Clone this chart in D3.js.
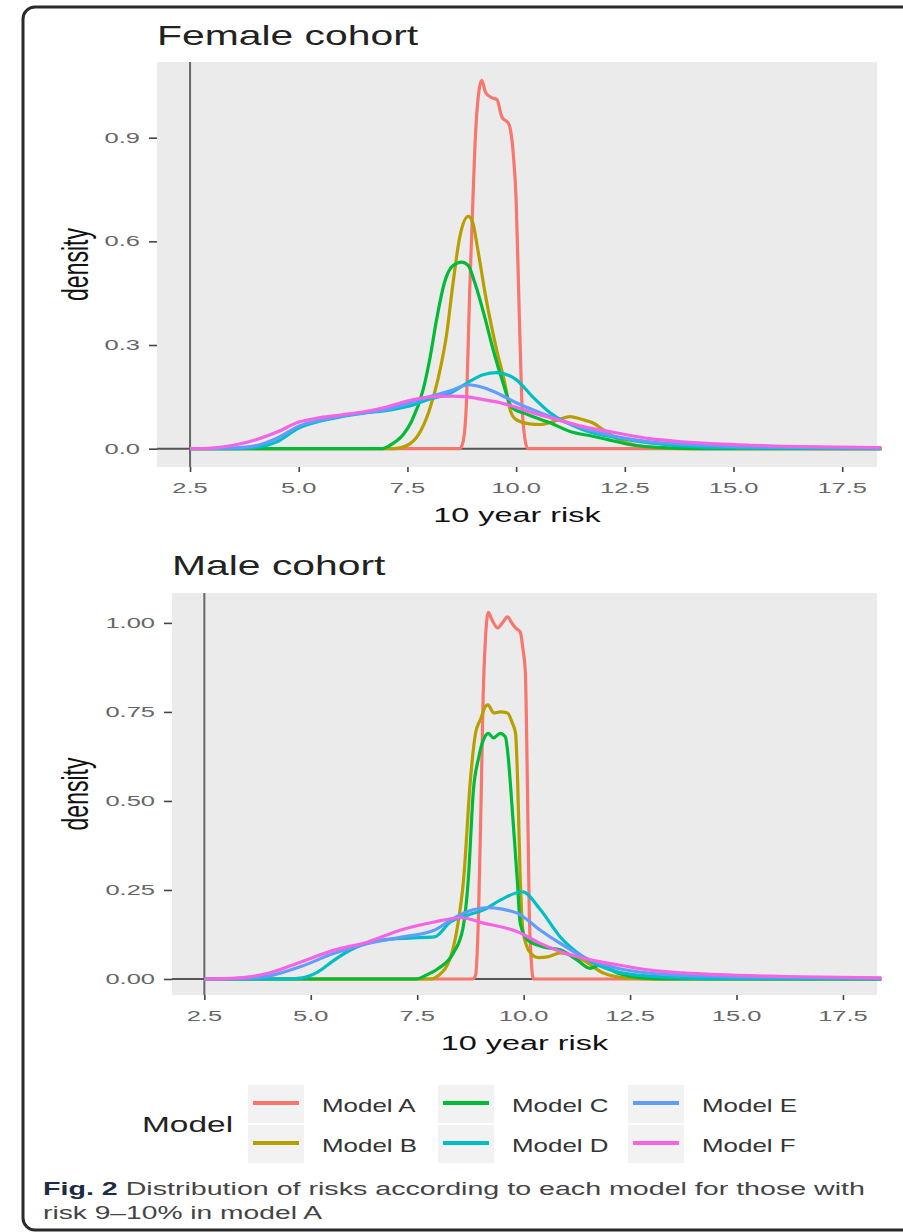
<!DOCTYPE html>
<html>
<head>
<meta charset="utf-8">
<script src="https://cdn.jsdelivr.net/npm/d3@7"></script>
<style>
  body { margin: 0; background: #fff; }
  svg { display: block; font-family: "Liberation Sans", Arial, sans-serif; }
</style>
</head>
<body>
<svg width="903" height="1232"></svg>
<script>
/*
  ==============================================================================
                                  Data
  ==============================================================================
*/

var models = ["Model A", "Model B", "Model C", "Model D", "Model E", "Model F"];
var colours = ["#F8766D", "#B79F00", "#00BA38", "#00BFC4", "#619CFF", "#F564E3"];

var xTicks = [2.5, 5, 7.5, 10, 12.5, 15, 17.5];
var femaleYTicks = [0, 0.3, 0.6, 0.9];
var maleYTicks = [0, 0.25, 0.5, 0.75, 1];

// [10 year risk, density]
var femaleA = [[2.5,0],[8.7,0],[8.78,0.02],[8.86,0.14],[8.93,0.45],[9.0,0.7],[9.07,0.92],[9.15,1.04],
  [9.21,1.066],[9.3,1.03],[9.45,1.015],[9.56,1.01],[9.67,0.96],[9.83,0.94],[9.93,0.86],[10.0,0.72],
  [10.07,0.4],[10.13,0.14],[10.2,0.03],[10.27,0],[18.4,0]];
var femaleB = [[2.5,0],[7.2,0],[7.5,0.01],[7.75,0.04],[8.0,0.11],[8.2,0.2],[8.4,0.33],[8.55,0.48],
  [8.7,0.61],[8.9,0.672],[9.0,0.655],[9.12,0.575],[9.3,0.44],[9.55,0.287],[9.74,0.19],[9.86,0.113],
  [10.0,0.084],[10.3,0.072],[10.55,0.07],[10.9,0.08],[11.24,0.093],[11.5,0.085],[11.76,0.075],
  [12.0,0.055],[12.23,0.035],[12.68,0.012],[13.2,0.003],[14,0],[18.4,0]];
var femaleC = [[2.5,0],[6.9,0],[7.1,0.01],[7.4,0.04],[7.6,0.08],[7.86,0.17],[8.0,0.25],[8.18,0.38],
  [8.35,0.48],[8.55,0.53],[8.75,0.54],[8.9,0.53],[9.05,0.48],[9.28,0.38],[9.47,0.287],[9.7,0.19],
  [9.9,0.12],[10.24,0.1],[10.78,0.075],[11.24,0.05],[11.76,0.036],[12.08,0.027],[12.6,0.012],
  [13.5,0.002],[14.2,0],[18.4,0]];
var femaleD = [[2.5,0],[3.5,0],[4.0,0.004],[4.5,0.02],[5.0,0.06],[5.5,0.08],[6.0,0.093],[6.5,0.103],
  [7.0,0.11],[7.5,0.122],[8.0,0.143],[8.5,0.162],[8.87,0.19],[9.24,0.214],[9.55,0.22],[10.0,0.2],
  [10.38,0.15],[10.78,0.104],[11.54,0.055],[12.3,0.032],[13.07,0.017],[13.83,0.008],[15,0.002],[18.4,0]];
var femaleE = [[2.5,0],[3.5,0.002],[4.0,0.008],[4.5,0.03],[5.0,0.065],[5.5,0.083],[6.0,0.095],
  [6.5,0.104],[7.0,0.113],[7.5,0.13],[8.0,0.15],[8.5,0.168],[8.9,0.185],[9.24,0.177],[9.63,0.157],
  [10.0,0.133],[10.38,0.113],[10.78,0.093],[11.54,0.06],[12.3,0.035],[13.07,0.02],[13.83,0.013],
  [15.4,0.005],[18.4,0.002]];
var femaleF = [[2.5,0],[3.0,0.002],[3.5,0.01],[4.0,0.025],[4.5,0.048],[5.0,0.077],[5.5,0.09],
  [6.0,0.098],[6.5,0.107],[7.0,0.12],[7.5,0.138],[8.0,0.149],[8.5,0.152],[8.87,0.15],[9.24,0.142],
  [9.63,0.133],[10.0,0.12],[10.38,0.104],[10.78,0.09],[11.54,0.064],[12.3,0.046],[13.07,0.029],
  [13.83,0.02],[14.6,0.014],[15.36,0.01],[16.1,0.007],[17.0,0.005],[18.4,0.003]];

var maleA = [[2.5,0],[8.8,0],[8.87,0.01],[8.94,0.18],[9.0,0.5],[9.05,0.8],[9.1,0.95],[9.17,1.03],
  [9.25,1.01],[9.39,0.986],[9.5,1.0],[9.62,1.017],[9.72,1.0],[9.81,0.986],[9.92,0.975],[9.98,0.93],
  [10.04,0.86],[10.09,0.53],[10.13,0.2],[10.18,0.05],[10.23,0],[18.4,0]];
var maleB = [[2.5,0],[7.8,0],[8.0,0.01],[8.28,0.06],[8.45,0.15],[8.59,0.28],[8.75,0.56],[8.87,0.69],
  [8.99,0.73],[9.1,0.765],[9.16,0.77],[9.3,0.747],[9.45,0.75],[9.62,0.747],[9.73,0.72],[9.81,0.69],
  [9.86,0.55],[9.92,0.28],[9.99,0.13],[10.16,0.073],[10.35,0.06],[10.56,0.062],[10.86,0.073],
  [11.1,0.068],[11.4,0.053],[11.87,0.017],[12.5,0.002],[13,0],[18.4,0]];
var maleC = [[2.5,0],[7.5,0],[7.7,0.01],[8.0,0.03],[8.35,0.073],[8.57,0.14],[8.7,0.28],[8.82,0.53],
  [8.94,0.62],[9.05,0.67],[9.17,0.69],[9.29,0.677],[9.45,0.69],[9.57,0.68],[9.64,0.62],[9.7,0.53],
  [9.85,0.28],[9.92,0.157],[10.09,0.11],[10.46,0.09],[10.86,0.082],[11.26,0.053],[11.56,0.03],
  [11.8,0.039],[12.2,0.017],[12.8,0.003],[13.3,0],[18.4,0]];
var maleD = [[2.5,0],[4.5,0],[4.8,0.003],[5.17,0.02],[5.55,0.053],[5.94,0.082],[6.3,0.1],[6.72,0.11],
  [7.3,0.115],[7.9,0.118],[8.28,0.16],[8.7,0.18],[9.06,0.194],[9.46,0.222],[9.97,0.245],[10.39,0.195],
  [10.86,0.118],[11.4,0.062],[12.2,0.02],[12.97,0.008],[14.5,0.001],[18.4,0]];
var maleE = [[2.5,0],[3.5,0.002],[4.0,0.008],[4.77,0.035],[5.55,0.072],[6.34,0.1],[7.1,0.117],
  [7.9,0.137],[8.28,0.165],[8.7,0.19],[9.15,0.2],[9.5,0.196],[9.85,0.185],[10.39,0.137],[10.86,0.1],
  [11.4,0.062],[12.2,0.03],[12.97,0.016],[13.8,0.01],[15.5,0.005],[18.4,0.002]];
var maleF = [[2.5,0],[3.0,0.001],[3.5,0.005],[4.0,0.016],[4.77,0.048],[5.55,0.081],[6.34,0.104],
  [7.1,0.137],[7.9,0.16],[8.52,0.172],[9.06,0.157],[9.85,0.133],[10.39,0.1],[10.86,0.077],[11.4,0.058],
  [12.2,0.04],[12.97,0.025],[13.74,0.017],[14.54,0.012],[16.1,0.007],[18.4,0.003]];

/*
  ==============================================================================
                                  Functions
  ==============================================================================
*/

var svg = d3.select("svg");

// text that is stretched sideways like the scanned figure
const label = function(g, txt, x, y, size, sx, anchor, fill, weight){
  return g.append("text")
    .attr("transform", "translate(" + x + "," + y + ") scale(" + sx + ",1)")
    .attr("text-anchor", anchor || "start")
    .attr("font-size", size)
    .attr("font-weight", weight || "normal")
    .attr("fill", fill || "#222")
    .text(txt);
}

// one density panel
const drawPanel = function(p){
  var g = svg.append("g");
  var x = d3.scaleLinear().domain([1.74, 18.3]).range([p.left, p.right]);
  var y = d3.scaleLinear().domain(p.yDomain).range([p.bottom, p.top]);

  g.append("rect")
    .attr("x", p.left).attr("y", p.top)
    .attr("width", p.right - p.left).attr("height", p.bottom - p.top)
    .attr("fill", "#EBEBEB");

  // reference lines
  g.append("line")
    .attr("x1", p.left).attr("x2", p.right)
    .attr("y1", y(0)).attr("y2", y(0))
    .attr("stroke", "#555").attr("stroke-width", 2);
  g.append("line")
    .attr("x1", x(2.5)).attr("x2", x(2.5))
    .attr("y1", p.top).attr("y2", p.bottom)
    .attr("stroke", "#666").attr("stroke-width", 2);

  var line = d3.line()
    .x(function(d){ return x(d[0]); })
    .y(function(d){ return y(d[1]); })
    .curve(d3.curveMonotoneX);

  g.selectAll("path.curve").data(p.series).enter()
    .append("path")
    .attr("class", "curve")
    .attr("d", line)
    .attr("fill", "none")
    .attr("stroke", function(d, i){ return colours[i]; })
    .attr("stroke-width", 3.2)
    .attr("stroke-linejoin", "round");

  // axes
  var xAxis = g.append("g")
    .attr("transform", "translate(0," + p.bottom + ")")
    .call(d3.axisBottom(x).tickValues(xTicks).tickSize(5).tickFormat(""));
  var yAxis = g.append("g")
    .attr("transform", "translate(" + p.left + ",0)")
    .call(d3.axisLeft(y).tickValues(p.yTicks).tickSize(8).tickFormat(""));
  [xAxis, yAxis].forEach(function(a){
    a.select(".domain").remove();
    a.selectAll(".tick line").attr("stroke", "#444").attr("stroke-width", 1.6);
  });

  xTicks.forEach(function(t){
    label(g, d3.format(".1f")(t), x(t), p.bottom + 26, 15, 1.7, "middle", "#666");
  });
  p.yTicks.forEach(function(t){
    label(g, p.yFormat(t), p.left - 17, y(t) + 5, 15, 1.7, "end", "#666");
  });

  // titles
  label(g, p.title, p.left, p.titleY, 28, 1.46, "start", "#222");
  label(g, "10 year risk", (p.left + p.right) / 2, p.bottom + 55, 20, 1.62, "middle", "#111");
  g.append("text")
    .attr("transform", "translate(88," + ((p.top + p.bottom) / 2) + ") rotate(-90) scale(1,1.6)")
    .attr("text-anchor", "middle")
    .attr("font-size", 23)
    .attr("fill", "#111")
    .text("density");
}

/*
  ==============================================================================
                                  Drawing
  ==============================================================================
*/

// outer frame
svg.append("rect")
  .attr("x", 23).attr("y", 7).attr("width", 920).attr("height", 1223)
  .attr("rx", 12)
  .attr("fill", "#fff").attr("stroke", "#2a2a2a").attr("stroke-width", 3);

drawPanel({
  title: "Female cohort", titleY: 45,
  left: 157, right: 877, top: 62, bottom: 467,
  yDomain: [-0.053, 1.119], yTicks: femaleYTicks, yFormat: d3.format(".1f"),
  series: [femaleA, femaleB, femaleC, femaleD, femaleE, femaleF]
});

drawPanel({
  title: "Male cohort", titleY: 575,
  left: 172, right: 877, top: 593, bottom: 995,
  yDomain: [-0.045, 1.084], yTicks: maleYTicks, yFormat: d3.format(".2f"),
  series: [maleA, maleB, maleC, maleD, maleE, maleF]
});

// legend, 3 columns x 2 rows
var legend = svg.append("g");
label(legend, "Model", 142, 1132, 22, 1.52, "start", "#222");
models.forEach(function(m, i){
  var col = Math.floor(i / 2), row = i % 2;
  var bx = 248 + col * 190, by = 1085 + row * 40;
  legend.append("rect")
    .attr("x", bx).attr("y", by).attr("width", 56).attr("height", 38)
    .attr("fill", "#F2F2F2");
  legend.append("line")
    .attr("x1", bx + 5).attr("x2", bx + 51)
    .attr("y1", by + 18).attr("y2", by + 18)
    .attr("stroke", colours[i]).attr("stroke-width", 4);
  label(legend, m, bx + 74, by + 27, 18, 1.44, "start", "#333");
});

// caption
var cap1 = svg.append("text")
  .attr("x", 43).attr("y", 1195)
  .attr("font-size", 18).attr("fill", "#444")
  .attr("textLength", 822).attr("lengthAdjust", "spacingAndGlyphs");
cap1.append("tspan").attr("font-weight", "bold").attr("fill", "#1d2b45").text("Fig. 2");
cap1.append("tspan").text(" Distribution of risks according to each model for those with");
svg.append("text")
  .attr("x", 43).attr("y", 1219)
  .attr("font-size", 18).attr("fill", "#444")
  .attr("textLength", 279).attr("lengthAdjust", "spacingAndGlyphs")
  .text("risk 9\u201310% in model A");
</script>
</body>
</html>
